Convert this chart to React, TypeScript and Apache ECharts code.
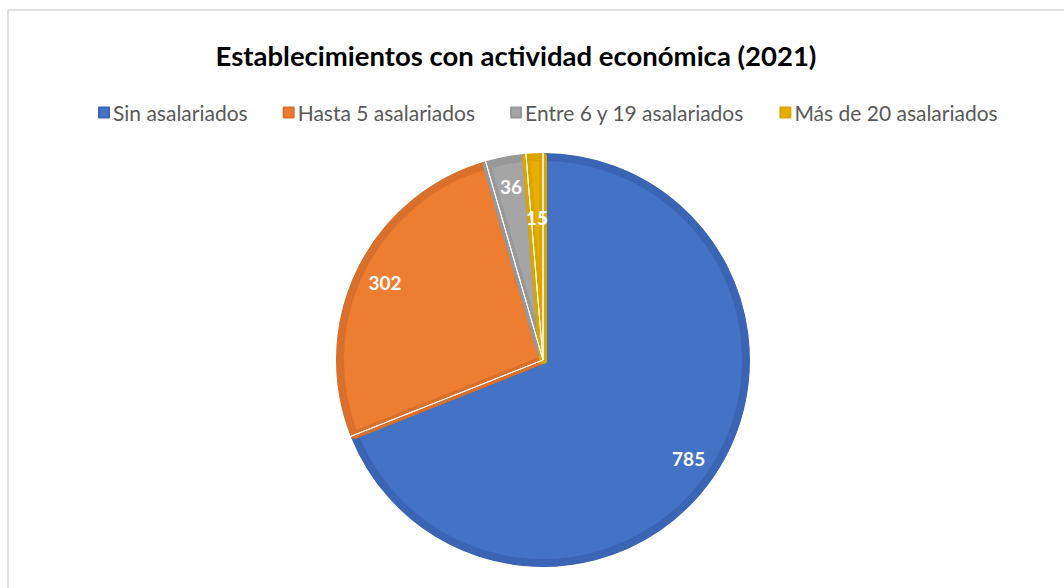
import React, { useEffect, useRef } from "react";
import * as echarts from "echarts";

const titleText = "Establecimientos con actividad económica (2021)";
const categories = ["Sin asalariados", "Hasta 5 asalariados", "Entre 6 y 19 asalariados", "Más de 20 asalariados"];
const values = [785, 302, 36, 15];
const fillColors = ["#4472C4", "#ED7D31", "#A5A5A5", "#E7AE00"];
const borderColors = ["#3B65B4", "#D8702B", "#989898", "#DBA500"];

export default function App() {
  const ref = useRef<HTMLDivElement>(null);
  useEffect(() => {
    document.body.style.margin = "0";
    if (!ref.current) return;
    const chart = echarts.init(ref.current, null, { renderer: "svg" });
    const font = "Lato, 'Liberation Sans', sans-serif";
    const center = [543, 360];
    const mainData = categories.map((name, i) => ({
      name,
      value: values[i],
      itemStyle: { color: fillColors[i], borderColor: borderColors[i], borderWidth: 8 },
    }));
    const labelData = (show: boolean[]) =>
      categories.map((name, i) => ({
        name,
        value: values[i],
        label: { show: show[i] },
      }));
    const labelStyle = {
      position: "inside",
      color: "#ffffff",
      fontFamily: font,
      fontWeight: "bold",
      fontSize: 19,
      formatter: "{c}",
    };
    chart.setOption({
      animation: false,
      color: fillColors,
      graphic: [
        {
          type: "rect",
          shape: { x: 8, y: 10, width: 1200, height: 700 },
          style: { fill: "none", stroke: "#d9d9d9", lineWidth: 1.5 },
          silent: true,
        },
        {
          type: "text",
          x: 516,
          y: 55,
          style: {
            text: titleText,
            textAlign: "center",
            textVerticalAlign: "middle",
            fill: "#000000",
            fontFamily: font,
            fontWeight: "bold",
            fontSize: 27.5,
          },
        },
      ],
      legend: {
        data: categories,
        left: 93,
        top: 97,
        itemWidth: 10,
        itemHeight: 10,
        itemGap: 35,
        icon: "rect",
        textStyle: { color: "#595959", fontFamily: font, fontSize: 21, padding: [0, 0, 0, -1] },
      },
      series: [
        {
          type: "pie",
          center,
          radius: 203,
          startAngle: 90,
          clockwise: true,
          label: { show: false },
          labelLine: { show: false },
          data: mainData,
          silent: true,
        },
        {
          type: "pie",
          center,
          radius: 208,
          startAngle: 90,
          clockwise: true,
          silent: true,
          itemStyle: { color: "rgba(0,0,0,0)", borderColor: "#ffffff", borderWidth: 1 },
          label: { show: false },
          labelLine: { show: false },
          data: categories.map((name, i) => ({ name, value: values[i] })),
        },
        {
          type: "pie",
          center,
          radius: 346,
          startAngle: 90,
          clockwise: true,
          silent: true,
          itemStyle: { color: "rgba(0,0,0,0)" },
          label: labelStyle,
          labelLine: { show: false },
          data: labelData([true, true, true, false]),
        },
        {
          type: "pie",
          center,
          radius: 280,
          startAngle: 90,
          clockwise: true,
          silent: true,
          itemStyle: { color: "rgba(0,0,0,0)" },
          label: labelStyle,
          labelLine: { show: false },
          data: labelData([false, false, false, true]),
        },
      ],
    });
    return () => chart.dispose();
  }, []);
  return <div ref={ref} style={{ width: 1064, height: 588 }} />;
}
